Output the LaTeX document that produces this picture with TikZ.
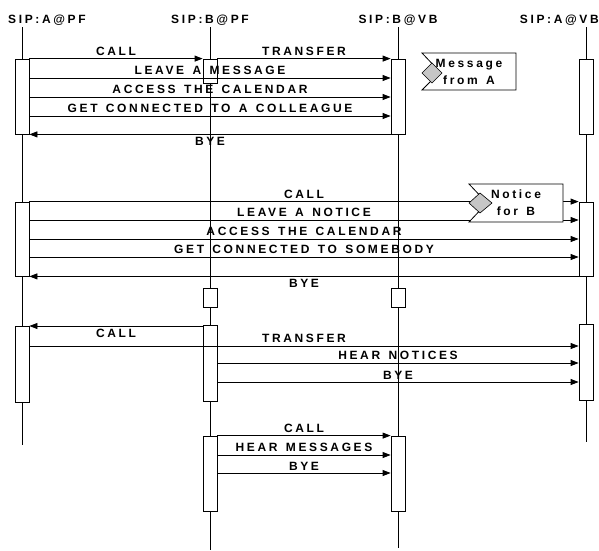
\documentclass[tikz,border=0pt]{standalone}
\usepackage{fontspec}
\setmainfont{Liberation Sans}
\newfontfamily\sipfont[LetterSpace=22, WordSpace=1.4]{Liberation Sans Bold}
\usetikzlibrary{arrows.meta}

\begin{document}
\begin{tikzpicture}[x=1pt, y=-1pt,
        font=\sipfont\fontsize{12}{17}\selectfont,
        leben/.style={line width=0.8pt},
        akt/.style={draw, line width=0.8pt, fill=white, minimum width=14pt, inner sep=0pt},
        msg/.style={line width=0.8pt, -{Triangle[length=8pt,width=6pt]}},
        oben/.style={midway, above, inner sep=2.5pt},
        unten/.style={midway, below, inner sep=2.5pt},
        notiz/.style={draw, line width=0.8pt, fill=white},
        raute/.style={draw, line width=0.6pt, fill=gray!45}]
            \useasboundingbox (0,0) rectangle (599,550);
            % Teilnehmer:
            \node[anchor=base west, inner sep=0pt] (hApf) at (8,23) {SIP:A@PF};
            \node[anchor=base] (hBpf) at (210,23) {SIP:B@PF};
            \node[anchor=base] (hBvb) at (398,23) {SIP:B@VB};
            \node[anchor=base east, inner sep=0pt] (hAvb) at (599,23) {SIP:A@VB};
            \coordinate (Apf) at (22,27);
            \coordinate (Bpf) at (210,27);
            \coordinate (Bvb) at (398,27);
            \coordinate (Avb) at (586,27);
            % Lebenslinien:
            \draw[leben] (Apf) -- ++(0,418);
            \draw[leben] (Bpf) -- ++(0,523);
            \draw[leben] (Bvb) -- ++(0,521);
            \draw[leben] (Avb) -- ++(0,415);

            % erster Block:
            \node[akt, minimum height=75pt] (a1) at (22,96.5) {};
            \node[akt, minimum height=24pt] (b1) at (210,71) {};
            \node[akt, minimum height=75pt] (bv1) at (398,96.5) {};
            \node[akt, minimum height=75pt] (av1) at (586,96.5) {};
            \draw[msg] (a1.north east) -- (b1.north west)
                node[oben] {CALL}
                ;
            \draw[msg] (b1.north east) -- (bv1.north west)
                node[oben] {TRANSFER}
                ;
            \draw[msg] (a1.east |- 0,78) -- (bv1.west |- 0,78)
                node[oben] {LEAVE A MESSAGE}
                ;
            \draw[msg] (a1.east |- 0,97) -- (bv1.west |- 0,97)
                node[oben] {ACCESS THE CALENDAR}
                ;
            \draw[msg] (a1.east |- 0,116) -- (bv1.west |- 0,116)
                node[oben] {GET CONNECTED TO A COLLEAGUE}
                ;
            \draw[msg] (bv1.south west) -- (a1.south east)
                node[unten] {BYE}
                ;
            \draw[notiz] (422,53) -- (516,53) -- (516,90) -- (422,90) -- (440,72) -- cycle;
            \draw[raute] (422,73) -- (432,63) -- (442,73) -- (432,83) -- cycle;
            \node[align=center] (nA) at (469,72) {Message\\from A};

            % zweiter Block:
            \node[akt, minimum height=74pt] (a2) at (22,239) {};
            \node[akt, minimum height=74pt] (av2) at (586,239) {};
            \draw[msg] (a2.north east) -- (av2.north west)
                node[oben] {CALL}
                ;
            \draw[msg] (a2.east |- 0,220) -- (av2.west |- 0,220)
                node[oben] {LEAVE A NOTICE}
                ;
            \draw[msg] (a2.east |- 0,239) -- (av2.west |- 0,239)
                node[oben] {ACCESS THE CALENDAR}
                ;
            \draw[msg] (a2.east |- 0,257) -- (av2.west |- 0,257)
                node[oben] {GET CONNECTED TO SOMEBODY}
                ;
            \draw[msg] (av2.south west) -- (a2.south east)
                node[unten] {BYE}
                ;
            \draw[notiz] (469,184) -- (563,184) -- (563,222) -- (469,222) -- (487,203) -- cycle;
            \draw[raute] (469,203) -- (480,193) -- (492,203) -- (480,213) -- cycle;
            \node[align=center] (nB) at (516,203) {Notice\\for B};
            \node[akt, minimum height=19pt] (b2) at (210,297.5) {};
            \node[akt, minimum height=19pt] (bv2) at (398,297.5) {};

            % dritter Block:
            \node[akt, minimum height=76pt] (a3) at (22,364) {};
            \node[akt, minimum height=76pt] (b3) at (210,363) {};
            \node[akt, minimum height=76pt] (av3) at (586,362) {};
            \draw[msg] (b3.west |- 0,326) -- (a3.east |- 0,326)
                node[unten] {CALL}
                ;
            \draw[msg] (a3.east |- 0,346) -- (av3.west |- 0,346)
                node[oben] {TRANSFER}
                ;
            \draw[msg] (b3.east |- 0,363) -- (av3.west |- 0,363)
                node[oben] {HEAR NOTICES}
                ;
            \draw[msg] (b3.east |- 0,382) -- (av3.west |- 0,382)
                node[oben] {BYE}
                ;

            % vierter Block:
            \node[akt, minimum height=75pt] (b4) at (210,473.5) {};
            \node[akt, minimum height=75pt] (bv4) at (398,473.5) {};
            \draw[msg] (b4.north east) -- (bv4.north west)
                node[oben] {CALL}
                ;
            \draw[msg] (b4.east |- 0,455) -- (bv4.west |- 0,455)
                node[oben] {HEAR MESSAGES}
                ;
            \draw[msg] (b4.east |- 0,473) -- (bv4.west |- 0,473)
                node[oben] {BYE}
                ;
\end{tikzpicture}
\end{document}
